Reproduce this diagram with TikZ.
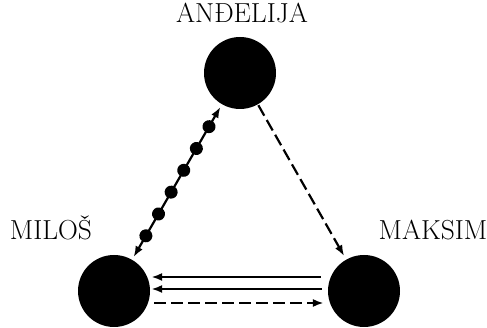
\documentclass[tikz,border=0pt]{standalone}
\usepackage{tikz}
\usetikzlibrary{arrows.meta, calc, positioning, decorations.markings}

\tikzset{
  person/.style={circle, fill=black, minimum size=72pt, inner sep=0pt},
  personname/.style={anchor=base, font=\fontsize{27.5}{33}\selectfont},
  onearrow/.style={-{Latex[length=11pt,width=8pt]}},
  twoarrow/.style={{Latex[length=11pt,width=8pt]}-{Latex[length=11pt,width=8pt]}},
  beads/.style={decoration={markings,
      mark=between positions 0.15 and 0.86 step 0.142 with {\fill (0,0) circle (6.5pt);}},
    postaction={decorate}}
}

\begin{document}
\begin{tikzpicture}[x=1pt, y=1pt, line width=2.2pt]
\useasboundingbox (0,0) rectangle (487,328);

\node[person] (andjelija) at (240,255) {};
\node[person] (milos) at (114,37) {};
\node[person] (maksim) at (364,37) {};

\node[personname] (andjelijaname) at (242,305) {ANĐELIJA};
\node[personname] (milosname) at (51,88) {MILOŠ};
\node[personname] (maksimname) at (433,88) {MAKSIM};

% beaded link, both ways
\draw[twoarrow, beads, shorten <=2pt, shorten >=2pt] (milos) -- (andjelija);
% dashed link down the right side
\draw[onearrow, dashed, dash pattern=on 12pt off 5pt, shorten >=3pt] (andjelija) -- (maksim);

% three links along the bottom
\draw[onearrow, shorten <=6pt] ([yshift=14pt]maksim.west) -- ([yshift=14pt]milos.east);
\draw[onearrow, shorten <=5pt] ([yshift=2pt]maksim.west) -- ([yshift=2pt]milos.east);
\draw[onearrow, dashed, dash pattern=on 12pt off 5pt, shorten <=3pt, shorten >=3pt] ([yshift=-12pt]milos.east) -- ([yshift=-12pt]maksim.west);
\end{tikzpicture}
\end{document}
